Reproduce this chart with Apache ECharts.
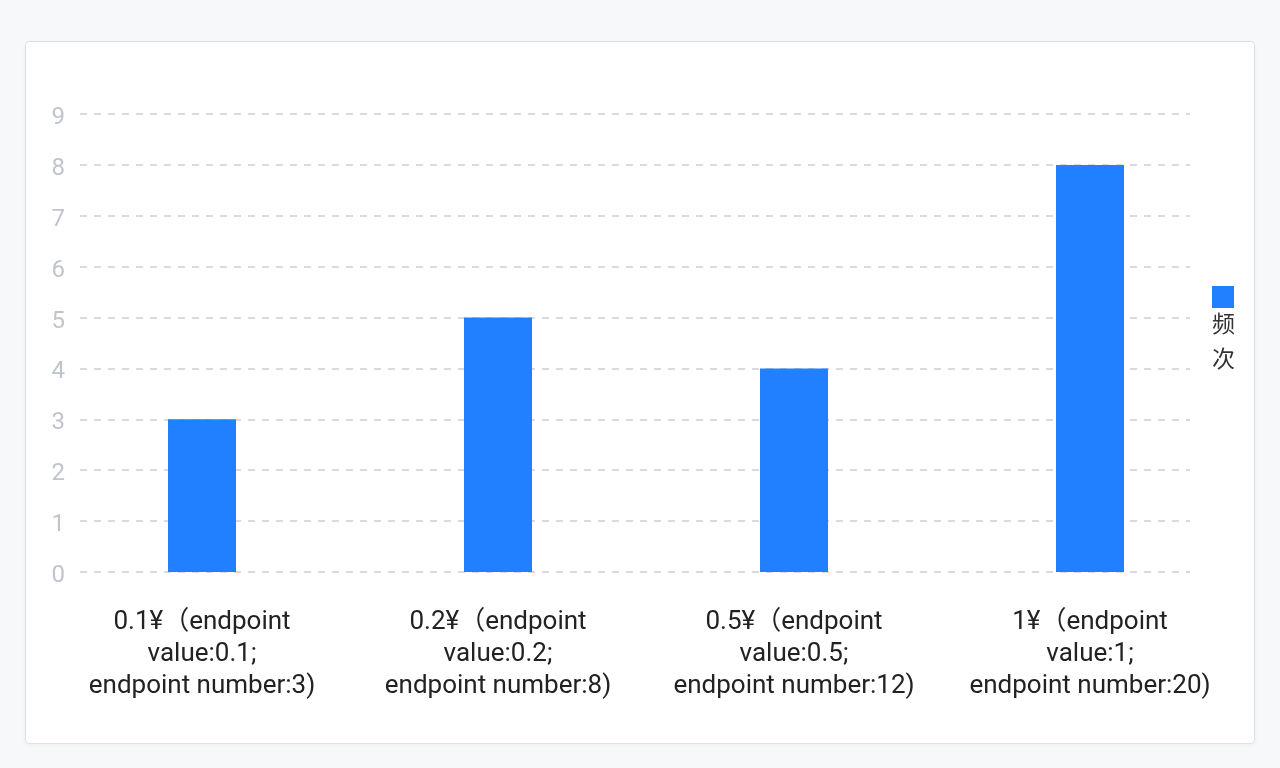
<!DOCTYPE html>
<html>
<head>
<meta charset="utf-8">
<script src="https://cdn.jsdelivr.net/npm/echarts@6/dist/echarts.min.js"></script>
<style>
  html, body { margin: 0; padding: 0; width: 1280px; height: 768px; background: #f7f8fa; overflow: hidden; }
  #card { position: absolute; left: 25px; top: 41px; width: 1228px; height: 701px; background: #fff;
          border: 1px solid #dde1e8; border-radius: 4px; box-shadow: 0 1px 4px rgba(0,0,0,0.04); }
  #chart { position: absolute; left: 0; top: 0; width: 1280px; height: 768px; }
</style>
</head>
<body>
<div id="card"></div>
<div id="chart"></div>
<script>
const categories = [
  '0.1¥（endpoint\nvalue:0.1;\nendpoint number:3)',
  '0.2¥（endpoint\nvalue:0.2;\nendpoint number:8)',
  '0.5¥（endpoint\nvalue:0.5;\nendpoint number:12)',
  '1¥（endpoint\nvalue:1;\nendpoint number:20)'
];
const seriesName = '频次';
const frequency = [3, 5, 4, 8];
const yMin = 0, yMax = 9, yInterval = 1;

const chart = echarts.init(document.getElementById('chart'), null, { renderer: 'canvas' });
const FONT = 'Roboto, "Noto Sans CJK SC", sans-serif';
chart.setOption({
  animation: false,
  backgroundColor: 'transparent',
  legend: {
    orient: 'vertical',
    left: 1207,
    top: 285,
    padding: 0,
    itemWidth: 0,
    itemHeight: 0,
    itemGap: 0,
    data: [seriesName],
    formatter: function (name) {
      return '{sq| }\n' + name.split('').join('\n');
    },
    textStyle: {
      fontFamily: FONT,
      fontSize: 23,
      color: '#333',
      lineHeight: 35,
      rich: {
        sq: { width: 22, height: 22, backgroundColor: '#2080ff', lineHeight: 24 }
      }
    }
  },
  grid: [
    { left: 80, right: 90, top: 114, bottom: 196 },
    { left: 54, right: 42, top: 114, bottom: 196 }
  ],
  xAxis: [
    { type: 'category', gridIndex: 0, data: categories, show: false },
    {
      type: 'category', gridIndex: 1, data: categories,
      axisLine: { show: false }, axisTick: { show: false },
      axisLabel: {
        interval: 0, margin: 34, fontFamily: FONT, fontSize: 26, lineHeight: 32,
        color: '#222', align: 'center'
      }
    }
  ],
  yAxis: [
    {
      type: 'value', gridIndex: 0, min: yMin, max: yMax, interval: yInterval,
      axisLine: { show: false }, axisTick: { show: false },
      axisLabel: {
        margin: 15, fontFamily: FONT, fontSize: 24, color: '#c0c4cc',
        formatter: function (v) { return '{t|' + v + '}'; },
        rich: { t: { fontFamily: FONT, fontSize: 24, color: '#c0c4cc', padding: [8, 0, 0, 0] } }
      },
      splitLine: { lineStyle: { type: [7, 7], color: '#cfcfcf', width: 1.5 } }
    },
    { type: 'value', gridIndex: 1, min: yMin, max: yMax, interval: yInterval, show: false, splitLine: { show: false } }
  ],
  series: [{
    name: seriesName,
    type: 'bar',
    xAxisIndex: 1,
    yAxisIndex: 1,
    data: frequency,
    barWidth: 68,
    itemStyle: { color: '#2080ff' }
  }]
});
</script>
</body>
</html>
